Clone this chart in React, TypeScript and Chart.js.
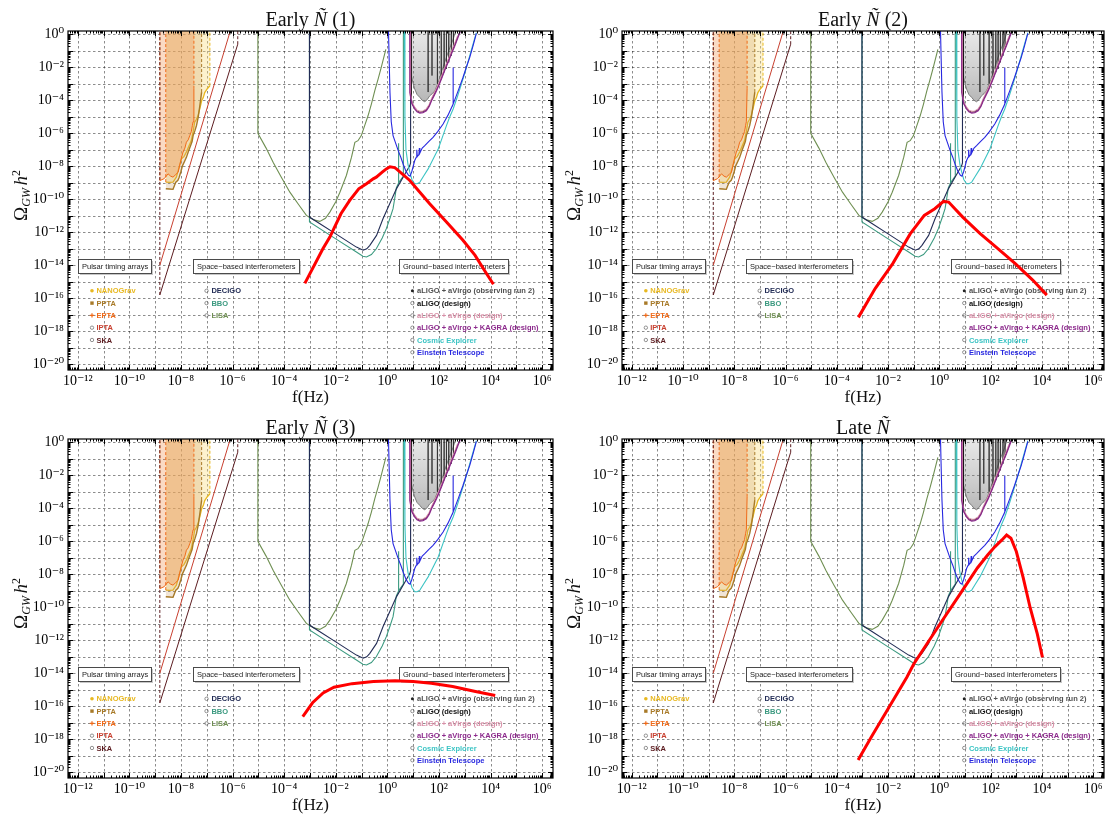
import React, { useEffect, useRef } from 'react';
import { Chart, registerables } from 'chart.js';

Chart.register(...registerables);

// ---------- axes (log10 units) ----------
const X_LOG_RANGE = [-12.38, 6.42];
const Y_LOG_RANGE = [-20.35, 0.2];
const X_DECADES = [-12, -11, -10, -9, -8, -7, -6, -5, -4, -3, -2, -1, 0, 1, 2, 3, 4, 5, 6];
const Y_DECADES = [-20, -19, -18, -17, -16, -15, -14, -13, -12, -11, -10, -9, -8, -7, -6, -5, -4, -3, -2, -1, 0];
const ABOVE_TOP = 1; // log10 level above the frame, used for open-ended edges

// ---------- pulsar timing arrays (log10 f, log10 Omega h^2) ----------
const NANOGRAV_F = [-8.59, -8.45, -8.31, -8.18, -8.08, -7.98, -7.88, -7.79, -7.7, -7.6, -7.53, -7.47, -7.4, -7.34, -7.27, -7.2, -7.14, -7.08, -6.98, -6.88];
const NANOGRAV_O = [-8.96, -8.98, -8.96, -8.66, -8.1, -7.55, -7.4, -7.14, -6.8, -6.44, -5.9, -5.33, -5.15, -4.93, -4.5, -4.03, -3.85, -3.53, -3.3, -3.12];
const PPTA_F = [-8.59, -8.45, -8.31, -8.2, -8.12, -8.07, -8.0, -7.94, -7.86, -7.79, -7.7, -7.63, -7.57, -7.53, -7.46, -7.4, -7.33, -7.27, -7.2];
const PPTA_O = [-9.36, -9.38, -9.4, -8.96, -8.85, -8.66, -8.3, -7.96, -7.7, -7.46, -7.05, -6.75, -6.5, -6.14, -5.84, -5.54, -5.0, -4.33, -3.5];
const EPTA_F = [-8.82, -8.65, -8.5, -8.4, -8.31, -8.2, -8.11, -8.0, -7.92, -7.85, -7.79, -7.72, -7.66, -7.6, -7.56, -7.53, -7.5];
const EPTA_O = [-8.87, -8.75, -8.46, -8.6, -8.66, -8.5, -8.36, -7.6, -7.14, -6.9, -6.54, -6.4, -6.14, -5.9, -5.54, -5.3, -3.3];
const IPTA_F = [-8.82, -6.08];
const IPTA_O = [-14.0, 0.25];
const SKA_F = [-8.82, -5.8];
const SKA_O = [-15.8, -0.6];

// ---------- space-based ----------
const LISA_F = [-5.02, -5.02, -4.7, -4.43, -4.1, -3.78, -3.45, -3.14, -2.85, -2.62, -2.4, -2.23, -2.0, -1.84, -1.59, -1.39, -1.26, -1.14, -1.01, -0.88, -0.75, -0.62, -0.49, -0.36, -0.24, -0.06];
const LISA_O = [ABOVE_TOP, -6.0, -6.9, -7.76, -8.7, -9.57, -10.3, -10.98, -11.25, -11.34, -11.15, -10.78, -10.15, -9.57, -8.56, -7.45, -6.55, -6.45, -6.14, -5.54, -4.94, -4.23, -3.43, -2.72, -2.02, -0.91];
const DECIGO_F = [-3.02, -3.02, -2.0, -1.2, -0.94, -0.8, -0.68, -0.42, -0.17, 0.09, 0.35, 0.61, 0.87, 0.9, 0.9];
const DECIGO_O = [ABOVE_TOP, -11.08, -12.1, -12.9, -13.09, -13.0, -12.79, -12.19, -11.18, -10.27, -9.37, -8.66, -7.96, -7.8, ABOVE_TOP];
const BBO_F = [-3.02, -3.02, -2.0, -1.2, -0.95, -0.81, -0.62, -0.43, -0.2, -0.04, 0.1, 0.22, 0.3, 0.35, 0.42, 0.42, 0.45, 0.55, 0.62, 0.62];
const BBO_O = [ABOVE_TOP, -11.38, -12.4, -13.2, -13.45, -13.5, -13.35, -13.0, -12.35, -11.78, -11.15, -10.57, -9.8, -9.3, -9.06, -6.6, -9.0, -8.75, -8.6, ABOVE_TOP];

// ---------- ground-based ----------
const O2_F = [0.87, 0.9, 0.93, 1.0, 1.06, 1.15, 1.26, 1.35, 1.45, 1.55, 1.64, 1.74, 1.84, 1.97, 2.09, 2.22, 2.35, 2.45, 2.55, 2.67];
const O2_O = [ABOVE_TOP, -1.5, -2.52, -3.0, -3.32, -3.65, -3.83, -4.0, -4.09, -3.95, -3.73, -3.6, -3.43, -2.92, -2.32, -1.71, -1.11, -0.7, -0.3, 0.3];
const O2_SPIKE_F = [1.58, 1.73, 1.94, 2.09, 2.2, 2.29, 2.38, 2.48, 2.56];
const O2_SPIKE_O = [-3.5, -2.5, -3.0, -2.7, -2.3, -2.1, -1.7, -1.3, -0.9];
const ALIGO_F = [0.93, 0.93, 0.97, 1.05, 1.15, 1.26, 1.38, 1.51, 1.62, 1.71, 1.8, 1.9, 2.0, 2.09, 2.22, 2.35, 2.48, 2.61, 2.72, 2.82];
const ALIGO_O = [ABOVE_TOP, -3.9, -4.25, -4.45, -4.64, -4.71, -4.69, -4.57, -4.32, -3.97, -3.69, -3.37, -3.02, -2.67, -2.14, -1.65, -1.14, -0.65, -0.19, 0.21];
const HLV_F = [0.9, 0.9, 0.95, 1.05, 1.15, 1.26, 1.38, 1.51, 1.62, 1.71, 1.8, 1.9, 2.0, 2.09, 2.22, 2.35, 2.48, 2.61, 2.72];
const HLV_O = [ABOVE_TOP, -3.6, -4.12, -4.4, -4.6, -4.67, -4.65, -4.52, -4.26, -3.9, -3.6, -3.28, -2.93, -2.57, -2.04, -1.55, -1.04, -0.55, -0.1];
const HLVK_F = [0.87, 0.87, 0.95, 1.05, 1.15, 1.26, 1.38, 1.51, 1.62, 1.71, 1.8, 1.9, 2.0, 2.09, 2.22, 2.35, 2.48, 2.61, 2.72, 2.82];
const HLVK_O = [ABOVE_TOP, -3.53, -4.2, -4.5, -4.7, -4.77, -4.75, -4.63, -4.38, -4.03, -3.75, -3.43, -3.08, -2.73, -2.2, -1.71, -1.2, -0.71, -0.25, 0.15];
const CE_F = [0.66, 0.68, 0.72, 0.8, 0.87, 0.95, 1.06, 1.15, 1.26, 1.4, 1.58, 1.78, 1.97, 2.13, 2.29, 2.42, 2.55, 2.71, 2.87, 3.03, 3.19, 3.32, 3.45];
const CE_O = [ABOVE_TOP, -5.0, -7.0, -7.9, -8.36, -8.8, -9.06, -9.06, -8.96, -8.6, -8.16, -7.55, -6.95, -6.25, -5.54, -5.0, -4.53, -3.8, -3.02, -2.2, -1.31, -0.6, 0.1];
const ET_F = [0.03, 0.1, 0.15, 0.22, 0.32, 0.42, 0.52, 0.61, 0.72, 0.82, 0.88, 0.95, 1.06, 1.12, 1.14, 1.16, 1.22, 1.24, 1.26, 1.35, 1.45, 1.6, 1.77, 1.95, 2.16, 2.35, 2.55, 2.55, 2.55, 2.75, 2.93, 3.06, 3.19, 3.32, 3.45];
const ET_O = [ABOVE_TOP, -3.5, -5.3, -6.14, -6.6, -7.05, -7.45, -7.86, -8.3, -8.55, -8.6, -8.3, -7.65, -7.45, -7.0, -7.4, -7.3, -6.9, -7.2, -6.9, -6.75, -6.5, -6.25, -5.9, -5.44, -4.9, -4.23, -2.02, -4.23, -3.4, -2.62, -2.0, -1.41, -0.7, 0.05];

// ---------- the four model spectra (red) ----------
const RED1_F = [-3.2, -2.5, -2.23, -1.8, -1.46, -1.11, -0.81, -0.55, -0.43, -0.2, -0.04, 0.1, 0.28, 0.35, 0.87, 1.64, 2.3, 2.93, 3.4, 3.84, 4.11];
const RED1_O = [-15.1, -13.0, -12.29, -10.88, -10.07, -9.37, -9.06, -8.76, -8.66, -8.36, -8.16, -8.03, -8.08, -8.16, -8.86, -10.27, -11.4, -12.49, -13.4, -14.5, -15.15];
const RED2_F = [-3.16, -2.5, -1.82, -1.14, -0.59, -0.18, 0.16, 0.36, 0.91, 1.59, 2.28, 2.96, 3.64, 4.19];
const RED2_O = [-17.16, -15.4, -13.9, -12.1, -10.98, -10.57, -10.13, -10.17, -11.08, -12.08, -12.99, -13.9, -14.9, -15.81];
const RED3_F = [-3.28, -2.9, -2.49, -2.07, -1.37, -0.54, 0.3, 1.0, 1.7, 2.53, 3.37, 4.18];
const RED3_O = [-16.63, -15.79, -15.19, -14.85, -14.63, -14.5, -14.45, -14.5, -14.6, -14.8, -15.09, -15.35];
const RED4_F = [-3.17, -2.65, -1.96, -1.27, -1.0, -0.58, 0.1, 0.79, 1.48, 1.89, 2.17, 2.44, 2.62, 2.79, 3.0, 3.27, 3.54, 3.82, 4.02];
const RED4_O = [-19.26, -17.85, -16.05, -14.24, -13.44, -12.44, -10.83, -9.23, -7.62, -6.82, -6.32, -5.92, -5.62, -5.82, -6.62, -8.22, -10.03, -11.63, -13.04];
const RED_F = [RED1_F, RED2_F, RED3_F, RED4_F];
const RED_O = [RED1_O, RED2_O, RED3_O, RED4_O];

// ---------- text ----------
const PANEL_WORDS = ['Early', 'Early', 'Early', 'Late'];
const PANEL_TAGS = [' (1)', ' (2)', ' (3)', ''];
const GROUP_TITLES = ['Pulsar timing arrays', 'Space\u2212based interferometers', 'Ground\u2212based interferometers'];
const PTA_LABELS = ['NANOGrav', 'PPTA', 'EPTA', 'IPTA', 'SKA'];
const SPACE_LABELS = ['DECIGO', 'BBO', 'LISA'];
const GROUND_LABELS = ['aLIGO + aVirgo (observing run 2)', 'aLIGO (design)', 'aLIGO + aVirgo (design)', 'aLIGO + aVirgo + KAGRA (design)', 'Cosmic Explorer', 'Einstein Telescope'];

// ---------- styles ----------
const C = {
  nanograv: '#e8b820', ppta: '#a87a28', epta: '#f06a18', ipta: '#c84030', ska: '#5c1c20',
  decigo: '#222c55', bbo: '#3c9a80', lisa: '#6f8f52',
  o2: '#555555', aligo: '#111111', hlv: '#d890a8', hlvk: '#8c2a8c', ce: '#3cc4c4', et: '#2828e0',
  red: '#ff0000',
};
const PTA_COLORS = [C.nanograv, C.ppta, C.epta, C.ipta, C.ska];
const SPACE_COLORS = [C.decigo, C.bbo, C.lisa];
const GROUND_COLORS = ['#505050', C.aligo, C.hlv, C.hlvk, C.ce, C.et];
const PTA_MARKS = ['dot', 'square', 'plus', 'ring', 'ring'];
const SPACE_MARKS = ['ring', 'ring', 'ring'];
const GROUND_MARKS = ['star', 'ring', 'ring', 'ring', 'ring', 'ring'];

const SERIF = '"Liberation Serif", "DejaVu Serif", serif';
const SANS = '"Liberation Sans", Arial, sans-serif';

const LEGEND = [
  { title: GROUP_TITLES[0], labels: PTA_LABELS, colors: PTA_COLORS, marks: PTA_MARKS, boxF: -12.0, markF: -11.45, textF: -11.28 },
  { title: GROUP_TITLES[1], labels: SPACE_LABELS, colors: SPACE_COLORS, marks: SPACE_MARKS, boxF: -7.53, markF: -7.01, textF: -6.82 },
  { title: GROUP_TITLES[2], labels: GROUND_LABELS, colors: GROUND_COLORS, marks: GROUND_MARKS, boxF: 0.45, markF: 0.97, textF: 1.15 },
];
const LEGEND_BOX_O = -14.03;
const LEGEND_ROW0_O = -15.55;
const LEGEND_ROW_STEP = 0.745;

// ---------- helpers ----------
const P = (f: number, o: number | null) => ({ x: Math.pow(10, f), y: o === null ? null : Math.pow(10, o) });
const series = (F: number[], O: number[]) => F.map((f, i) => P(f, O[i]));
const last = (a: number[]) => a[a.length - 1];
const edge = (f: number, o: number) => [P(f, o), P(f, ABOVE_TOP)];

const SUP: Record<string, string> = { '-': '\u207B', '0': '\u2070', '1': '\u00B9', '2': '\u00B2', '3': '\u00B3', '4': '\u2074', '5': '\u2075', '6': '\u2076', '7': '\u2077', '8': '\u2078', '9': '\u2079' };
const pow10Label = (v: number) => {
  const e = Math.round(Math.log10(v));
  return e % 2 === 0 ? '10' + String(e).split('').map((c) => SUP[c]).join('') : '';
};

// grey shading of the O2 region, darker towards its bottom
const o2Fill = (c: any) => {
  const chart = c.chart;
  const a = chart.chartArea;
  if (!a) return 'rgba(130,130,130,0.3)';
  const yBottom = chart.scales.y.getPixelForValue(Math.pow(10, Math.min(...O2_O)));
  const g = chart.ctx.createLinearGradient(0, a.top, 0, yBottom);
  g.addColorStop(0, 'rgba(150,150,150,0.22)');
  g.addColorStop(1, 'rgba(110,110,110,0.5)');
  return g;
};

function buildDatasets(redF: number[], redO: number[]) {
  const L = (data: any[], color: string, width = 1, extra: any = {}) => ({
    data, borderColor: color, borderWidth: width, pointRadius: 0, tension: 0, fill: false, spanGaps: false, ...extra,
  });
  const dashed = { borderDash: [3, 2] };
  const spikes = O2_SPIKE_F.flatMap((f, i) => [P(f, ABOVE_TOP), P(f, O2_SPIKE_O[i]), P(f, null)]);
  // listed bottom to top
  const list = [
    L(series(NANOGRAV_F, NANOGRAV_O), C.nanograv, 1.3, { fill: 'end', backgroundColor: 'rgba(250,222,125,0.38)' }),
    L(series(PPTA_F, PPTA_O), C.ppta, 1.4, { fill: 'end', backgroundColor: 'rgba(200,150,90,0.25)' }),
    L(series(EPTA_F, EPTA_O), C.epta, 1, { fill: 'end', backgroundColor: 'rgba(240,140,70,0.32)' }),
    L(edge(NANOGRAV_F[0], NANOGRAV_O[0]), C.epta, 1, dashed),
    L(edge(last(NANOGRAV_F), last(NANOGRAV_O)), C.nanograv, 1, dashed),
    L(edge(last(PPTA_F), last(PPTA_O)), C.ppta, 1, dashed),
    L(edge(last(EPTA_F), last(EPTA_O)), C.epta, 1, dashed),
    L(edge(EPTA_F[0], EPTA_O[0]), C.epta, 1, dashed),
    L(edge(SKA_F[0], SKA_O[0]), C.ska, 1, dashed),
    L(series(IPTA_F, IPTA_O), C.ipta, 1),
    L(series(SKA_F, SKA_O), C.ska, 1),
    L(edge(last(SKA_F), last(SKA_O)), C.ska, 1, dashed),
    L(series(LISA_F, LISA_O), C.lisa, 1.1),
    L(series(BBO_F, BBO_O), C.bbo, 1.1),
    L(series(DECIGO_F, DECIGO_O), C.decigo, 1.1),
    L(series(O2_F, O2_O), '#707070', 0.9, { fill: 'end', backgroundColor: o2Fill }),
    L(spikes, '#262626', 0.6),
    L(series(ALIGO_F, ALIGO_O), C.aligo, 1),
    L(series(HLV_F, HLV_O), C.hlv, 1.1),
    L(series(HLVK_F, HLVK_O), C.hlvk, 1.3),
    L(series(CE_F, CE_O), C.ce, 1.1),
    L(series(ET_F, ET_O), C.et, 1.1),
    L(series(redF, redO), C.red, 3),
  ];
  return list.reverse(); // Chart.js paints the first dataset last
}

function drawMark(ctx: CanvasRenderingContext2D, kind: string, x: number, y: number, color: string) {
  ctx.save();
  ctx.fillStyle = color;
  ctx.strokeStyle = color;
  ctx.lineWidth = 0.8;
  if (kind === 'dot') { ctx.beginPath(); ctx.arc(x, y, 1.8, 0, Math.PI * 2); ctx.fill(); }
  else if (kind === 'square') { ctx.fillRect(x - 1.7, y - 1.7, 3.4, 3.4); }
  else if (kind === 'plus') { ctx.lineWidth = 1.2; ctx.beginPath(); ctx.moveTo(x - 2.2, y); ctx.lineTo(x + 2.2, y); ctx.moveTo(x, y - 2.2); ctx.lineTo(x, y + 2.2); ctx.stroke(); }
  else if (kind === 'star') { ctx.fillStyle = '#222'; ctx.beginPath(); ctx.arc(x, y, 1.5, 0, Math.PI * 2); ctx.fill(); }
  else { ctx.strokeStyle = '#777'; ctx.beginPath(); ctx.arc(x, y, 1.7, 0, Math.PI * 2); ctx.stroke(); }
  ctx.restore();
}

function drawRich(ctx: CanvasRenderingContext2D, parts: { t: string; f: string; dy: number }[], cx: number, base: number) {
  let total = 0;
  parts.forEach((p) => { ctx.font = p.f; total += ctx.measureText(p.t).width; });
  let x = cx - total / 2;
  ctx.textAlign = 'left';
  ctx.textBaseline = 'alphabetic';
  parts.forEach((p) => { ctx.font = p.f; ctx.fillText(p.t, x, base + p.dy); x += ctx.measureText(p.t).width; });
}

const decorPlugin = {
  id: 'decor',
  beforeDatasetsDraw(chart: any) {
    const { ctx, chartArea: a, scales } = chart;
    const px = (lf: number) => scales.x.getPixelForValue(Math.pow(10, lf));
    const py = (lo: number) => scales.y.getPixelForValue(Math.pow(10, lo));
    ctx.save();
    ctx.strokeStyle = 'rgba(0,0,0,0.45)';
    ctx.lineWidth = 1;
    ctx.setLineDash([2.5, 2.5]);
    ctx.beginPath();
    X_DECADES.forEach((e) => { const x = Math.round(px(e)) + 0.5; ctx.moveTo(x, a.top); ctx.lineTo(x, a.bottom); });
    Y_DECADES.forEach((e) => { const y = Math.round(py(e)) + 0.5; ctx.moveTo(a.left, y); ctx.lineTo(a.right, y); });
    ctx.stroke();
    ctx.setLineDash([]);

    LEGEND.forEach((g) => {
      ctx.font = `7.5px ${SANS}`;
      const tw = ctx.measureText(g.title).width;
      const bw = Math.round(tw + 7);
      const bh = 14;
      const bx = Math.round(px(g.boxF)) + 0.5;
      const by = Math.round(py(LEGEND_BOX_O) - bh / 2) + 0.5;
      ctx.fillStyle = 'rgba(0,0,0,0.22)';
      ctx.fillRect(bx + 1.5, by + 1.5, bw, bh);
      ctx.fillStyle = '#ffffff';
      ctx.fillRect(bx, by, bw, bh);
      ctx.strokeStyle = '#4a4a4a';
      ctx.lineWidth = 1;
      ctx.strokeRect(bx, by, bw, bh);
      ctx.fillStyle = '#222';
      ctx.textAlign = 'left';
      ctx.textBaseline = 'middle';
      ctx.fillText(g.title, bx + 3.5, by + bh / 2 + 0.5);
      g.labels.forEach((lab, i) => {
        const y = py(LEGEND_ROW0_O - i * LEGEND_ROW_STEP);
        drawMark(ctx, g.marks[i], px(g.markF), y, g.colors[i]);
        ctx.font = `bold 7.5px ${SANS}`;
        ctx.fillStyle = g.colors[i];
        ctx.textBaseline = 'middle';
        ctx.fillText(lab, px(g.textF), y + 0.5);
      });
    });
    ctx.restore();
  },
  afterDatasetsDraw(chart: any) {
    const { ctx, chartArea: a, scales } = chart;
    const px = (lf: number) => scales.x.getPixelForValue(Math.pow(10, lf));
    const py = (lo: number) => scales.y.getPixelForValue(Math.pow(10, lo));
    ctx.save();
    ctx.strokeStyle = '#000';
    ctx.lineWidth = 1;
    ctx.beginPath();
    for (let e = Math.floor(X_LOG_RANGE[0]); e <= Math.ceil(X_LOG_RANGE[1]); e++) {
      for (let k = 1; k <= 9; k++) {
        const lv = e + Math.log10(k);
        if (lv < X_LOG_RANGE[0] || lv > X_LOG_RANGE[1]) continue;
        const x = Math.round(px(lv)) + 0.5;
        const len = k === 1 ? 5 : 2.5;
        ctx.moveTo(x, a.bottom); ctx.lineTo(x, a.bottom - len);
        ctx.moveTo(x, a.top); ctx.lineTo(x, a.top + len);
      }
    }
    for (let e = Math.floor(Y_LOG_RANGE[0]); e <= Math.ceil(Y_LOG_RANGE[1]); e++) {
      for (let k = 1; k <= 9; k++) {
        const lv = e + Math.log10(k);
        if (lv < Y_LOG_RANGE[0] || lv > Y_LOG_RANGE[1]) continue;
        const y = Math.round(py(lv)) + 0.5;
        const len = k === 1 ? 5 : 2.5;
        ctx.moveTo(a.left, y); ctx.lineTo(a.left + len, y);
        ctx.moveTo(a.right, y); ctx.lineTo(a.right - len, y);
      }
    }
    ctx.stroke();
    ctx.lineWidth = 1.2;
    ctx.strokeRect(a.left, a.top, a.right - a.left, a.bottom - a.top);
    ctx.restore();
  },
  afterDraw(chart: any, _args: any, opts: any) {
    const { ctx, chartArea: a } = chart;
    const i = opts.idx;
    const cx = (a.left + a.right) / 2;
    ctx.save();
    ctx.fillStyle = '#111';
    drawRich(ctx, [
      { t: PANEL_WORDS[i] + ' ', f: `20px ${SERIF}`, dy: 0 },
      { t: '\u00D1', f: `italic 20px ${SERIF}`, dy: 0 },
      { t: PANEL_TAGS[i], f: `20px ${SERIF}`, dy: 0 },
    ], cx, 25.5);
    drawRich(ctx, [{ t: 'f(Hz)', f: `17px ${SERIF}`, dy: 0 }], cx, a.bottom + 32);
    ctx.translate(27, (a.top + a.bottom) / 2 - 5);
    ctx.rotate(-Math.PI / 2);
    drawRich(ctx, [
      { t: '\u03A9', f: `19px ${SERIF}`, dy: 0 },
      { t: 'GW', f: `italic 12px ${SERIF}`, dy: 2.5 },
      { t: ' ', f: `10px ${SERIF}`, dy: 0 },
      { t: 'h', f: `italic 19px ${SERIF}`, dy: 0 },
      { t: '2', f: `12px ${SERIF}`, dy: -7 },
    ], 0, 0);
    ctx.restore();
  },
};

const PANEL_BOXES = [
  { left: 0, top: 0, width: 565, height: 408, yWidth: 68, padRight: 12 },
  { left: 553, top: 0, width: 554, height: 408, yWidth: 69, padRight: 3 },
  { left: 0, top: 408, width: 565, height: 408, yWidth: 68, padRight: 12 },
  { left: 553, top: 408, width: 554, height: 408, yWidth: 69, padRight: 3 },
];

function Panel({ idx }: { idx: number }) {
  const ref = useRef<HTMLCanvasElement>(null);
  const box = PANEL_BOXES[idx];
  useEffect(() => {
    const tickFont = { family: SERIF, size: 14 };
    const chart = new Chart(ref.current as HTMLCanvasElement, {
      type: 'line',
      data: { datasets: buildDatasets(RED_F[idx], RED_O[idx]) as any },
      options: {
        responsive: false,
        animation: false,
        events: [],
        layout: { padding: { left: 0, right: box.padRight, top: 31, bottom: 0 } },
        plugins: { legend: { display: false }, tooltip: { enabled: false }, title: { display: false }, decor: { idx } } as any,
        scales: {
          x: {
            type: 'logarithmic',
            bounds: 'data',
            min: Math.pow(10, X_LOG_RANGE[0]),
            max: Math.pow(10, X_LOG_RANGE[1]),
            grid: { display: false, drawTicks: false },
            border: { display: false },
            ticks: { autoSkip: false, maxRotation: 0, minRotation: 0, padding: 3, color: '#000', font: tickFont, callback: (v: any) => pow10Label(Number(v)) },
            afterBuildTicks: (s: any) => { s.ticks = X_DECADES.map((e) => ({ value: Math.pow(10, e) })); },
            afterFit: (s: any) => { s.height = 38; s.paddingLeft = 0; s.paddingRight = 0; },
          } as any,
          y: {
            type: 'logarithmic',
            bounds: 'data',
            min: Math.pow(10, Y_LOG_RANGE[0]),
            max: Math.pow(10, Y_LOG_RANGE[1]),
            grid: { display: false, drawTicks: false },
            border: { display: false },
            ticks: { autoSkip: false, padding: 4, color: '#000', font: tickFont, callback: (v: any) => pow10Label(Number(v)) },
            afterBuildTicks: (s: any) => { s.ticks = Y_DECADES.map((e) => ({ value: Math.pow(10, e) })); },
            afterFit: (s: any) => { s.width = box.yWidth; s.paddingTop = 0; s.paddingBottom = 0; },
          } as any,
        },
      },
      plugins: [decorPlugin as any],
    });
    return () => chart.destroy();
  }, []);
  return (
    <canvas
      ref={ref}
      width={box.width}
      height={box.height}
      style={{ position: 'absolute', left: box.left, top: box.top, width: box.width, height: box.height }}
    />
  );
}

export default function App() {
  return (
    <div style={{ position: 'absolute', left: 0, top: 0, width: 1107, height: 816, background: '#ffffff', overflow: 'hidden' }}>
      {PANEL_BOXES.map((_, i) => <Panel key={i} idx={i} />)}
    </div>
  );
}
